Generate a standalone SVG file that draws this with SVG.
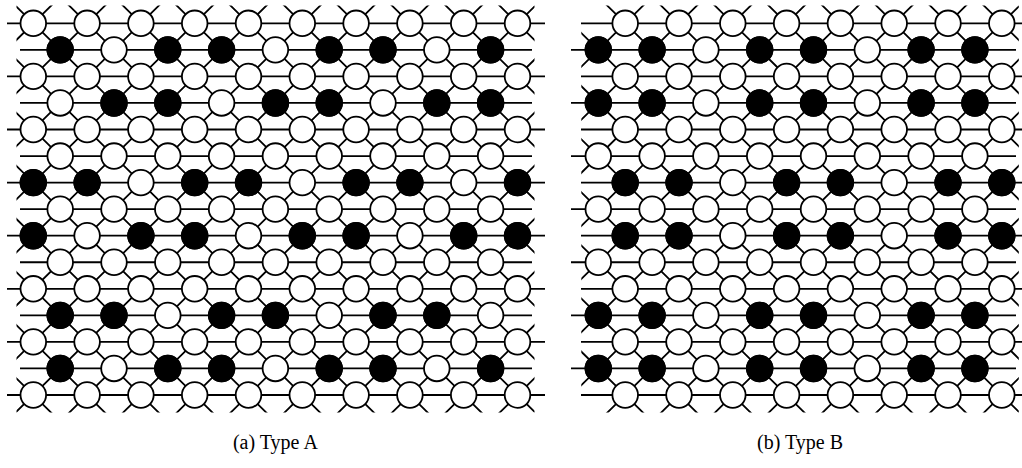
<svg xmlns="http://www.w3.org/2000/svg" xmlns:xlink="http://www.w3.org/1999/xlink" width="1022" height="468" viewBox="0 0 1022 468">
<style>
.ln{fill:none;stroke:#000;stroke-width:1.8}
.w{fill:#fff;stroke:#000;stroke-width:1.8}
.b{fill:#000;stroke:#000;stroke-width:1.8}
.lbl{font-family:"Liberation Serif","Times New Roman",serif;font-size:20px;fill:#000;text-anchor:middle}
</style>
<defs>
<clipPath id="clipA"><rect x="16.5" y="5.5" width="518" height="407"/></clipPath>
<clipPath id="clipB"><rect x="581.3" y="5.5" width="437.5" height="407"/></clipPath>
<g id="rowAe">
<circle class="w" cx="33.3" cy="0" r="12.8"/><circle class="w" cx="87.1" cy="0" r="12.8"/><circle class="w" cx="140.9" cy="0" r="12.8"/><circle class="w" cx="194.7" cy="0" r="12.8"/><circle class="w" cx="248.5" cy="0" r="12.8"/><circle class="w" cx="302.3" cy="0" r="12.8"/><circle class="w" cx="356.1" cy="0" r="12.8"/><circle class="w" cx="409.9" cy="0" r="12.8"/><circle class="w" cx="463.7" cy="0" r="12.8"/><circle class="w" cx="517.5" cy="0" r="12.8"/>
</g>
<g id="rowAo">
<circle class="w" cx="60.2" cy="0" r="12.8"/><circle class="w" cx="114.0" cy="0" r="12.8"/><circle class="w" cx="167.8" cy="0" r="12.8"/><circle class="w" cx="221.6" cy="0" r="12.8"/><circle class="w" cx="275.4" cy="0" r="12.8"/><circle class="w" cx="329.2" cy="0" r="12.8"/><circle class="w" cx="383.0" cy="0" r="12.8"/><circle class="w" cx="436.8" cy="0" r="12.8"/><circle class="w" cx="490.6" cy="0" r="12.8"/>
</g>
<g id="rowBo">
<circle class="w" cx="598.3" cy="0" r="12.8"/><circle class="w" cx="652.1" cy="0" r="12.8"/><circle class="w" cx="705.9" cy="0" r="12.8"/><circle class="w" cx="759.7" cy="0" r="12.8"/><circle class="w" cx="813.5" cy="0" r="12.8"/><circle class="w" cx="867.3" cy="0" r="12.8"/><circle class="w" cx="921.1" cy="0" r="12.8"/><circle class="w" cx="974.9" cy="0" r="12.8"/>
</g>
<g id="rowBe">
<circle class="w" cx="625.2" cy="0" r="12.8"/><circle class="w" cx="679.0" cy="0" r="12.8"/><circle class="w" cx="732.8" cy="0" r="12.8"/><circle class="w" cx="786.6" cy="0" r="12.8"/><circle class="w" cx="840.4" cy="0" r="12.8"/><circle class="w" cx="894.2" cy="0" r="12.8"/><circle class="w" cx="948.0" cy="0" r="12.8"/><circle class="w" cx="1001.8" cy="0" r="12.8"/>
</g>
</defs>
<rect width="1022" height="468" fill="#fff"/>

<g id="connectors">
<g id="connA">
<path class="ln" clip-path="url(#clipA)" d="M-370.2,-3.25 l430.4,424.8 m-376.6,-424.8 l430.4,424.8 m-376.6,-424.8 l430.4,424.8 m-376.6,-424.8 l430.4,424.8 m-376.6,-424.8 l430.4,424.8 m-376.6,-424.8 l430.4,424.8 m-376.6,-424.8 l430.4,424.8 m-376.6,-424.8 l430.4,424.8 m-376.6,-424.8 l430.4,424.8 m-376.6,-424.8 l430.4,424.8 m-376.6,-424.8 l430.4,424.8 m-376.6,-424.8 l430.4,424.8 m-376.6,-424.8 l430.4,424.8 m-376.6,-424.8 l430.4,424.8 m-376.6,-424.8 l430.4,424.8 m-376.6,-424.8 l430.4,424.8 m-376.6,-424.8 l430.4,424.8"/>
<path class="ln" clip-path="url(#clipA)" d="M60.2,-3.25 l-430.4,424.8 m484.2,-424.8 l-430.4,424.8 m484.2,-424.8 l-430.4,424.8 m484.2,-424.8 l-430.4,424.8 m484.2,-424.8 l-430.4,424.8 m484.2,-424.8 l-430.4,424.8 m484.2,-424.8 l-430.4,424.8 m484.2,-424.8 l-430.4,424.8 m484.2,-424.8 l-430.4,424.8 m484.2,-424.8 l-430.4,424.8 m484.2,-424.8 l-430.4,424.8 m484.2,-424.8 l-430.4,424.8 m484.2,-424.8 l-430.4,424.8 m484.2,-424.8 l-430.4,424.8 m484.2,-424.8 l-430.4,424.8 m484.2,-424.8 l-430.4,424.8 m484.2,-424.8 l-430.4,424.8"/>
<path class="ln" d="M7,23.3H545M7,76.4H545M7,129.5H545M7,182.6H545M7,235.7H545M7,288.8H545M7,341.9H545M7,395H545"/>
<path class="ln" d="M20,49.85H532M20,102.95H532M20,156.05H532M20,209.15H532M20,262.25H532M20,315.35H532M20,368.45H532"/>
</g>
<g id="connB">
<path class="ln" clip-path="url(#clipB)" d="M221.7,-3.25 l430.4,424.8 m-376.6,-424.8 l430.4,424.8 m-376.6,-424.8 l430.4,424.8 m-376.6,-424.8 l430.4,424.8 m-376.6,-424.8 l430.4,424.8 m-376.6,-424.8 l430.4,424.8 m-376.6,-424.8 l430.4,424.8 m-376.6,-424.8 l430.4,424.8 m-376.6,-424.8 l430.4,424.8 m-376.6,-424.8 l430.4,424.8 m-376.6,-424.8 l430.4,424.8 m-376.6,-424.8 l430.4,424.8 m-376.6,-424.8 l430.4,424.8 m-376.6,-424.8 l430.4,424.8 m-376.6,-424.8 l430.4,424.8"/>
<path class="ln" clip-path="url(#clipB)" d="M652.1,-3.25 l-430.4,424.8 m484.2,-424.8 l-430.4,424.8 m484.2,-424.8 l-430.4,424.8 m484.2,-424.8 l-430.4,424.8 m484.2,-424.8 l-430.4,424.8 m484.2,-424.8 l-430.4,424.8 m484.2,-424.8 l-430.4,424.8 m484.2,-424.8 l-430.4,424.8 m484.2,-424.8 l-430.4,424.8 m484.2,-424.8 l-430.4,424.8 m484.2,-424.8 l-430.4,424.8 m484.2,-424.8 l-430.4,424.8 m484.2,-424.8 l-430.4,424.8 m484.2,-424.8 l-430.4,424.8 m484.2,-424.8 l-430.4,424.8"/>
<path class="ln" d="M581,23.3H1030M581,76.4H1030M581,129.5H1030M581,182.6H1030M581,235.7H1030M581,288.8H1030M581,341.9H1030M581,395H1030"/>
<path class="ln" d="M571,49.85H1016M571,102.95H1016M571,156.05H1016M571,209.15H1016M571,262.25H1016M571,315.35H1016M571,368.45H1016"/>
</g>
</g>

<g id="panelA">
<use xlink:href="#rowAe" href="#rowAe" y="23.3"/>
<use xlink:href="#rowAo" href="#rowAo" y="49.85"/>
<use xlink:href="#rowAe" href="#rowAe" y="76.4"/>
<use xlink:href="#rowAo" href="#rowAo" y="102.95"/>
<use xlink:href="#rowAe" href="#rowAe" y="129.5"/>
<use xlink:href="#rowAo" href="#rowAo" y="156.05"/>
<use xlink:href="#rowAe" href="#rowAe" y="182.6"/>
<use xlink:href="#rowAo" href="#rowAo" y="209.15"/>
<use xlink:href="#rowAe" href="#rowAe" y="235.7"/>
<use xlink:href="#rowAo" href="#rowAo" y="262.25"/>
<use xlink:href="#rowAe" href="#rowAe" y="288.8"/>
<use xlink:href="#rowAo" href="#rowAo" y="315.35"/>
<use xlink:href="#rowAe" href="#rowAe" y="341.9"/>
<use xlink:href="#rowAo" href="#rowAo" y="368.45"/>
<use xlink:href="#rowAe" href="#rowAe" y="395"/>
<g id="blackA">
<circle class="b" cx="60.2" cy="49.85" r="12.8"/><circle class="b" cx="167.8" cy="49.85" r="12.8"/><circle class="b" cx="221.6" cy="49.85" r="12.8"/><circle class="b" cx="329.2" cy="49.85" r="12.8"/><circle class="b" cx="383.0" cy="49.85" r="12.8"/><circle class="b" cx="490.6" cy="49.85" r="12.8"/>
<circle class="b" cx="114.0" cy="102.95" r="12.8"/><circle class="b" cx="167.8" cy="102.95" r="12.8"/><circle class="b" cx="275.4" cy="102.95" r="12.8"/><circle class="b" cx="329.2" cy="102.95" r="12.8"/><circle class="b" cx="436.8" cy="102.95" r="12.8"/><circle class="b" cx="490.6" cy="102.95" r="12.8"/>
<circle class="b" cx="33.3" cy="182.6" r="12.8"/><circle class="b" cx="87.1" cy="182.6" r="12.8"/><circle class="b" cx="194.7" cy="182.6" r="12.8"/><circle class="b" cx="248.5" cy="182.6" r="12.8"/><circle class="b" cx="356.1" cy="182.6" r="12.8"/><circle class="b" cx="409.9" cy="182.6" r="12.8"/><circle class="b" cx="517.5" cy="182.6" r="12.8"/>
<circle class="b" cx="33.3" cy="235.7" r="12.8"/><circle class="b" cx="140.9" cy="235.7" r="12.8"/><circle class="b" cx="194.7" cy="235.7" r="12.8"/><circle class="b" cx="302.3" cy="235.7" r="12.8"/><circle class="b" cx="356.1" cy="235.7" r="12.8"/><circle class="b" cx="463.7" cy="235.7" r="12.8"/><circle class="b" cx="517.5" cy="235.7" r="12.8"/>
<circle class="b" cx="60.2" cy="315.35" r="12.8"/><circle class="b" cx="114.0" cy="315.35" r="12.8"/><circle class="b" cx="221.6" cy="315.35" r="12.8"/><circle class="b" cx="275.4" cy="315.35" r="12.8"/><circle class="b" cx="383.0" cy="315.35" r="12.8"/><circle class="b" cx="436.8" cy="315.35" r="12.8"/>
<circle class="b" cx="60.2" cy="368.45" r="12.8"/><circle class="b" cx="167.8" cy="368.45" r="12.8"/><circle class="b" cx="221.6" cy="368.45" r="12.8"/><circle class="b" cx="329.2" cy="368.45" r="12.8"/><circle class="b" cx="383.0" cy="368.45" r="12.8"/><circle class="b" cx="490.6" cy="368.45" r="12.8"/>
</g>
<text id="labelA" class="lbl" x="275.4" y="449">(a) Type A</text>
</g>

<g id="panelB">
<use xlink:href="#rowBe" href="#rowBe" y="23.3"/>
<use xlink:href="#rowBo" href="#rowBo" y="49.85"/>
<use xlink:href="#rowBe" href="#rowBe" y="76.4"/>
<use xlink:href="#rowBo" href="#rowBo" y="102.95"/>
<use xlink:href="#rowBe" href="#rowBe" y="129.5"/>
<use xlink:href="#rowBo" href="#rowBo" y="156.05"/>
<use xlink:href="#rowBe" href="#rowBe" y="182.6"/>
<use xlink:href="#rowBo" href="#rowBo" y="209.15"/>
<use xlink:href="#rowBe" href="#rowBe" y="235.7"/>
<use xlink:href="#rowBo" href="#rowBo" y="262.25"/>
<use xlink:href="#rowBe" href="#rowBe" y="288.8"/>
<use xlink:href="#rowBo" href="#rowBo" y="315.35"/>
<use xlink:href="#rowBe" href="#rowBe" y="341.9"/>
<use xlink:href="#rowBo" href="#rowBo" y="368.45"/>
<use xlink:href="#rowBe" href="#rowBe" y="395"/>
<g id="blackB">
<circle class="b" cx="598.3" cy="49.85" r="12.8"/><circle class="b" cx="652.1" cy="49.85" r="12.8"/><circle class="b" cx="759.7" cy="49.85" r="12.8"/><circle class="b" cx="813.5" cy="49.85" r="12.8"/><circle class="b" cx="921.1" cy="49.85" r="12.8"/><circle class="b" cx="974.9" cy="49.85" r="12.8"/>
<circle class="b" cx="598.3" cy="102.95" r="12.8"/><circle class="b" cx="652.1" cy="102.95" r="12.8"/><circle class="b" cx="759.7" cy="102.95" r="12.8"/><circle class="b" cx="813.5" cy="102.95" r="12.8"/><circle class="b" cx="921.1" cy="102.95" r="12.8"/><circle class="b" cx="974.9" cy="102.95" r="12.8"/>
<circle class="b" cx="625.2" cy="182.6" r="12.8"/><circle class="b" cx="679.0" cy="182.6" r="12.8"/><circle class="b" cx="786.6" cy="182.6" r="12.8"/><circle class="b" cx="840.4" cy="182.6" r="12.8"/><circle class="b" cx="948.0" cy="182.6" r="12.8"/><circle class="b" cx="1001.8" cy="182.6" r="12.8"/>
<circle class="b" cx="625.2" cy="235.7" r="12.8"/><circle class="b" cx="679.0" cy="235.7" r="12.8"/><circle class="b" cx="786.6" cy="235.7" r="12.8"/><circle class="b" cx="840.4" cy="235.7" r="12.8"/><circle class="b" cx="948.0" cy="235.7" r="12.8"/><circle class="b" cx="1001.8" cy="235.7" r="12.8"/>
<circle class="b" cx="598.3" cy="315.35" r="12.8"/><circle class="b" cx="652.1" cy="315.35" r="12.8"/><circle class="b" cx="759.7" cy="315.35" r="12.8"/><circle class="b" cx="813.5" cy="315.35" r="12.8"/><circle class="b" cx="921.1" cy="315.35" r="12.8"/><circle class="b" cx="974.9" cy="315.35" r="12.8"/>
<circle class="b" cx="598.3" cy="368.45" r="12.8"/><circle class="b" cx="652.1" cy="368.45" r="12.8"/><circle class="b" cx="759.7" cy="368.45" r="12.8"/><circle class="b" cx="813.5" cy="368.45" r="12.8"/><circle class="b" cx="921.1" cy="368.45" r="12.8"/><circle class="b" cx="974.9" cy="368.45" r="12.8"/>
</g>
<text id="labelB" class="lbl" x="800" y="449">(b) Type B</text>
</g>
</svg>
